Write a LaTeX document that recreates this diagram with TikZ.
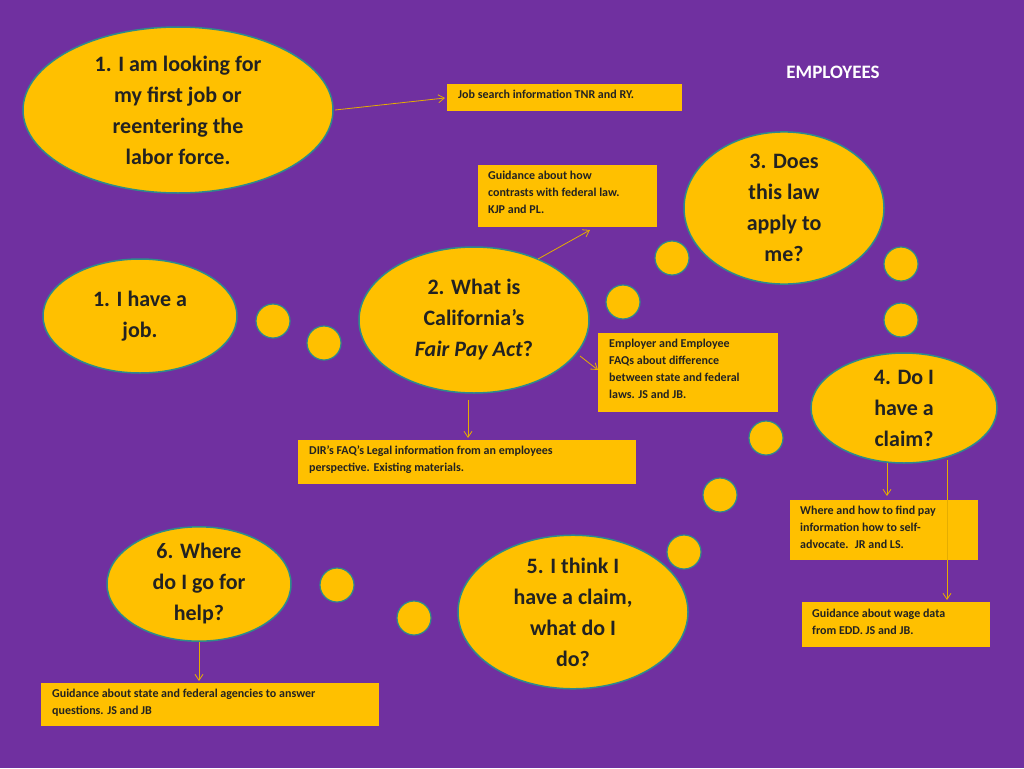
\documentclass[tikz,border=0pt]{standalone}
\usepackage{fontspec}
\setmainfont{Carlito}
\usetikzlibrary{arrows.meta,shapes.geometric}
\definecolor{bg}{HTML}{7030A0}
\definecolor{gold}{HTML}{FFC000}
\definecolor{edge}{HTML}{2E8B8B}
\definecolor{txt}{HTML}{222222}
\begin{document}
\begin{tikzpicture}[x=1pt,y=-1pt,
  bubble/.style={ellipse,draw=edge,line width=1.5pt,fill=gold,inner sep=0pt,align=center,text=txt,font=\fontsize{22}{31}\selectfont\bfseries},
  dot/.style={circle,draw=edge,line width=1.2pt,fill=gold,minimum size=34pt,inner sep=0pt},
  infobox/.style={fill=gold,align=left,anchor=north west,text=txt,inner sep=0pt,font=\fontsize{12}{17}\selectfont\bfseries},
  conn/.style={draw=gold!90!black,line width=0.8pt,-{Straight Barb[length=6pt,width=8pt]}}]
\useasboundingbox[fill=bg] (0,0) rectangle (1024,768);
\node[bubble,minimum width=310pt,minimum height=166pt] (e1) at (178,110) {1. I am looking for\\my first job or\\reentering the\\labor force.};
\node[bubble,minimum width=194pt,minimum height=114pt] (e2) at (140,316) {1. I have a\\job.};
\node[bubble,minimum width=230pt,minimum height=146pt] (e3) at (474,320) {2. What is\\California’s\\\textit{Fair Pay Act}?};
\node[bubble,minimum width=200pt,minimum height=126pt] (e4) at (784,208) {3. Does\\this law\\apply to\\me?};
\node[bubble,minimum width=186pt,minimum height=110pt] (e5) at (904,408) {4. Do I\\have a\\claim?};
\node[bubble,minimum width=230pt,minimum height=150pt] (e6) at (573,612) {5. I think I\\have a claim,\\what do I\\do?};
\node[bubble,minimum width=184pt,minimum height=110pt] (e7) at (199,584) {6. Where\\do I go for\\help?};
\foreach \n/\x/\y in {d1/273/321,d2/324/343,d3/623/302,d4/672/258,d5/901/264,d6/901/320,d7/766/438,d8/720/495,d9/684/552,d10/414/618,d11/337/585}
  \node[dot] (\n) at (\x,\y) {};
\node[font=\fontsize{19}{22}\selectfont\bfseries,text=white] (emp) at (833,72) {EMPLOYEES};
\fill[gold] (447,84) rectangle (682,111);
\node[infobox] (b1) at (458,90) {Job search information TNR and RY.};
\fill[gold] (478,165) rectangle (657,227);
\node[infobox] (b2) at (488,171) {Guidance about how\\contrasts with federal law.\\KJP and PL.};
\fill[gold] (598,333) rectangle (778,412);
\node[infobox] (b3) at (609,339) {Employer and Employee\\FAQs about difference\\between state and federal\\laws. JS and JB.};
\fill[gold] (298,440) rectangle (636,484);
\node[infobox] (b4) at (309,446) {DIR’s FAQ’s Legal information from an employees\\perspective. Existing materials.};
\fill[gold] (790,500) rectangle (978,560);
\node[infobox] (b5) at (800,506) {Where and how to find pay\\information how to self-\\advocate.~ JR and LS.};
\fill[gold] (802,602) rectangle (990,647);
\node[infobox] (b6) at (812,609) {Guidance about wage data\\from EDD. JS and JB.};
\fill[gold] (41,683) rectangle (379,726);
\node[infobox] (b7) at (52,689) {Guidance about state and federal agencies to answer\\questions. JS and JB};
\coordinate (t1) at (445,98); \coordinate (t2) at (590,230); \coordinate (t3) at (598,370);
\coordinate (t4) at (468,438); \coordinate (t5) at (887,496); \coordinate (t6) at (947,600); \coordinate (t7) at (199,681);
\coordinate (s1) at (335,110); \coordinate (s2) at (538,259); \coordinate (s3) at (580,356);
\coordinate (s4) at (468,400); \coordinate (s5) at (887,463); \coordinate (s6) at (947,460); \coordinate (s7) at (199,642);
\foreach \i in {1,...,7} \draw[conn] (s\i) -- (t\i);
\end{tikzpicture}
\end{document}
